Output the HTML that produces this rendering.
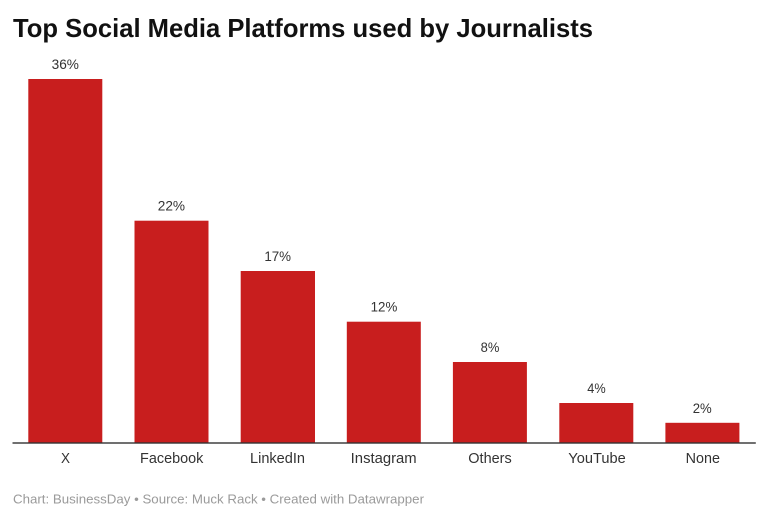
<!DOCTYPE html>
<html>
<head>
<meta charset="utf-8">
<style>
  html, body { margin: 0; padding: 0; background: #ffffff; }
  body { width: 768px; height: 520px; overflow: hidden; }
  svg { display: block; }
  text { font-family: "Liberation Sans", "DejaVu Sans", sans-serif; }
</style>
</head>
<body>
<svg width="768" height="520" viewBox="0 0 768 520" xmlns="http://www.w3.org/2000/svg">
  <rect x="0" y="0" width="768" height="520" fill="#ffffff"/>
  <!-- Title -->
  <text x="13" y="37" font-size="26" font-weight="bold" fill="#111111" textLength="580" lengthAdjust="spacingAndGlyphs">Top Social Media Platforms used by Journalists</text>

  <!-- Bars -->
  <g fill="#c81e1e">
    <rect x="28.3" y="79" width="74" height="363.5"/>
    <rect x="134.5" y="220.7" width="74" height="221.8"/>
    <rect x="240.7" y="271" width="74.3" height="171.5"/>
    <rect x="346.8" y="321.7" width="74" height="120.8"/>
    <rect x="452.9" y="362" width="74" height="80.5"/>
    <rect x="559.3" y="403" width="74" height="39.5"/>
    <rect x="665.4" y="422.8" width="74" height="19.7"/>
  </g>

  <!-- Axis line -->
  <rect x="12.5" y="442.3" width="743.3" height="1.4" fill="#333333"/>

  <!-- Value labels -->
  <g font-size="14" fill="#333333" text-anchor="middle">
    <text x="65.3" y="69" textLength="27.3" lengthAdjust="spacingAndGlyphs">36%</text>
    <text x="171.4" y="210.7" textLength="27.3" lengthAdjust="spacingAndGlyphs">22%</text>
    <text x="277.7" y="261" textLength="26.7" lengthAdjust="spacingAndGlyphs">17%</text>
    <text x="384" y="311.7" textLength="26.7" lengthAdjust="spacingAndGlyphs">12%</text>
    <text x="490" y="352" textLength="18.7" lengthAdjust="spacingAndGlyphs">8%</text>
    <text x="596.5" y="393" textLength="18.4" lengthAdjust="spacingAndGlyphs">4%</text>
    <text x="702.2" y="412.8" textLength="19" lengthAdjust="spacingAndGlyphs">2%</text>
  </g>

  <!-- Category labels -->
  <g font-size="14.5" fill="#333333" text-anchor="middle">
    <text x="65.5" y="463" textLength="9" lengthAdjust="spacingAndGlyphs">X</text>
    <text x="171.7" y="463" textLength="63.3" lengthAdjust="spacingAndGlyphs">Facebook</text>
    <text x="277.5" y="463" textLength="55" lengthAdjust="spacingAndGlyphs">LinkedIn</text>
    <text x="383.7" y="463" textLength="66" lengthAdjust="spacingAndGlyphs">Instagram</text>
    <text x="490" y="463" textLength="43.4" lengthAdjust="spacingAndGlyphs">Others</text>
    <text x="597" y="463" textLength="57.4" lengthAdjust="spacingAndGlyphs">YouTube</text>
    <text x="702.8" y="463" textLength="34.3" lengthAdjust="spacingAndGlyphs">None</text>
  </g>

  <!-- Footer -->
  <text x="13" y="503.5" font-size="13" fill="#9a9a9a" textLength="411" lengthAdjust="spacingAndGlyphs">Chart: BusinessDay • Source: Muck Rack • Created with Datawrapper</text>
</svg>
</body>
</html>
